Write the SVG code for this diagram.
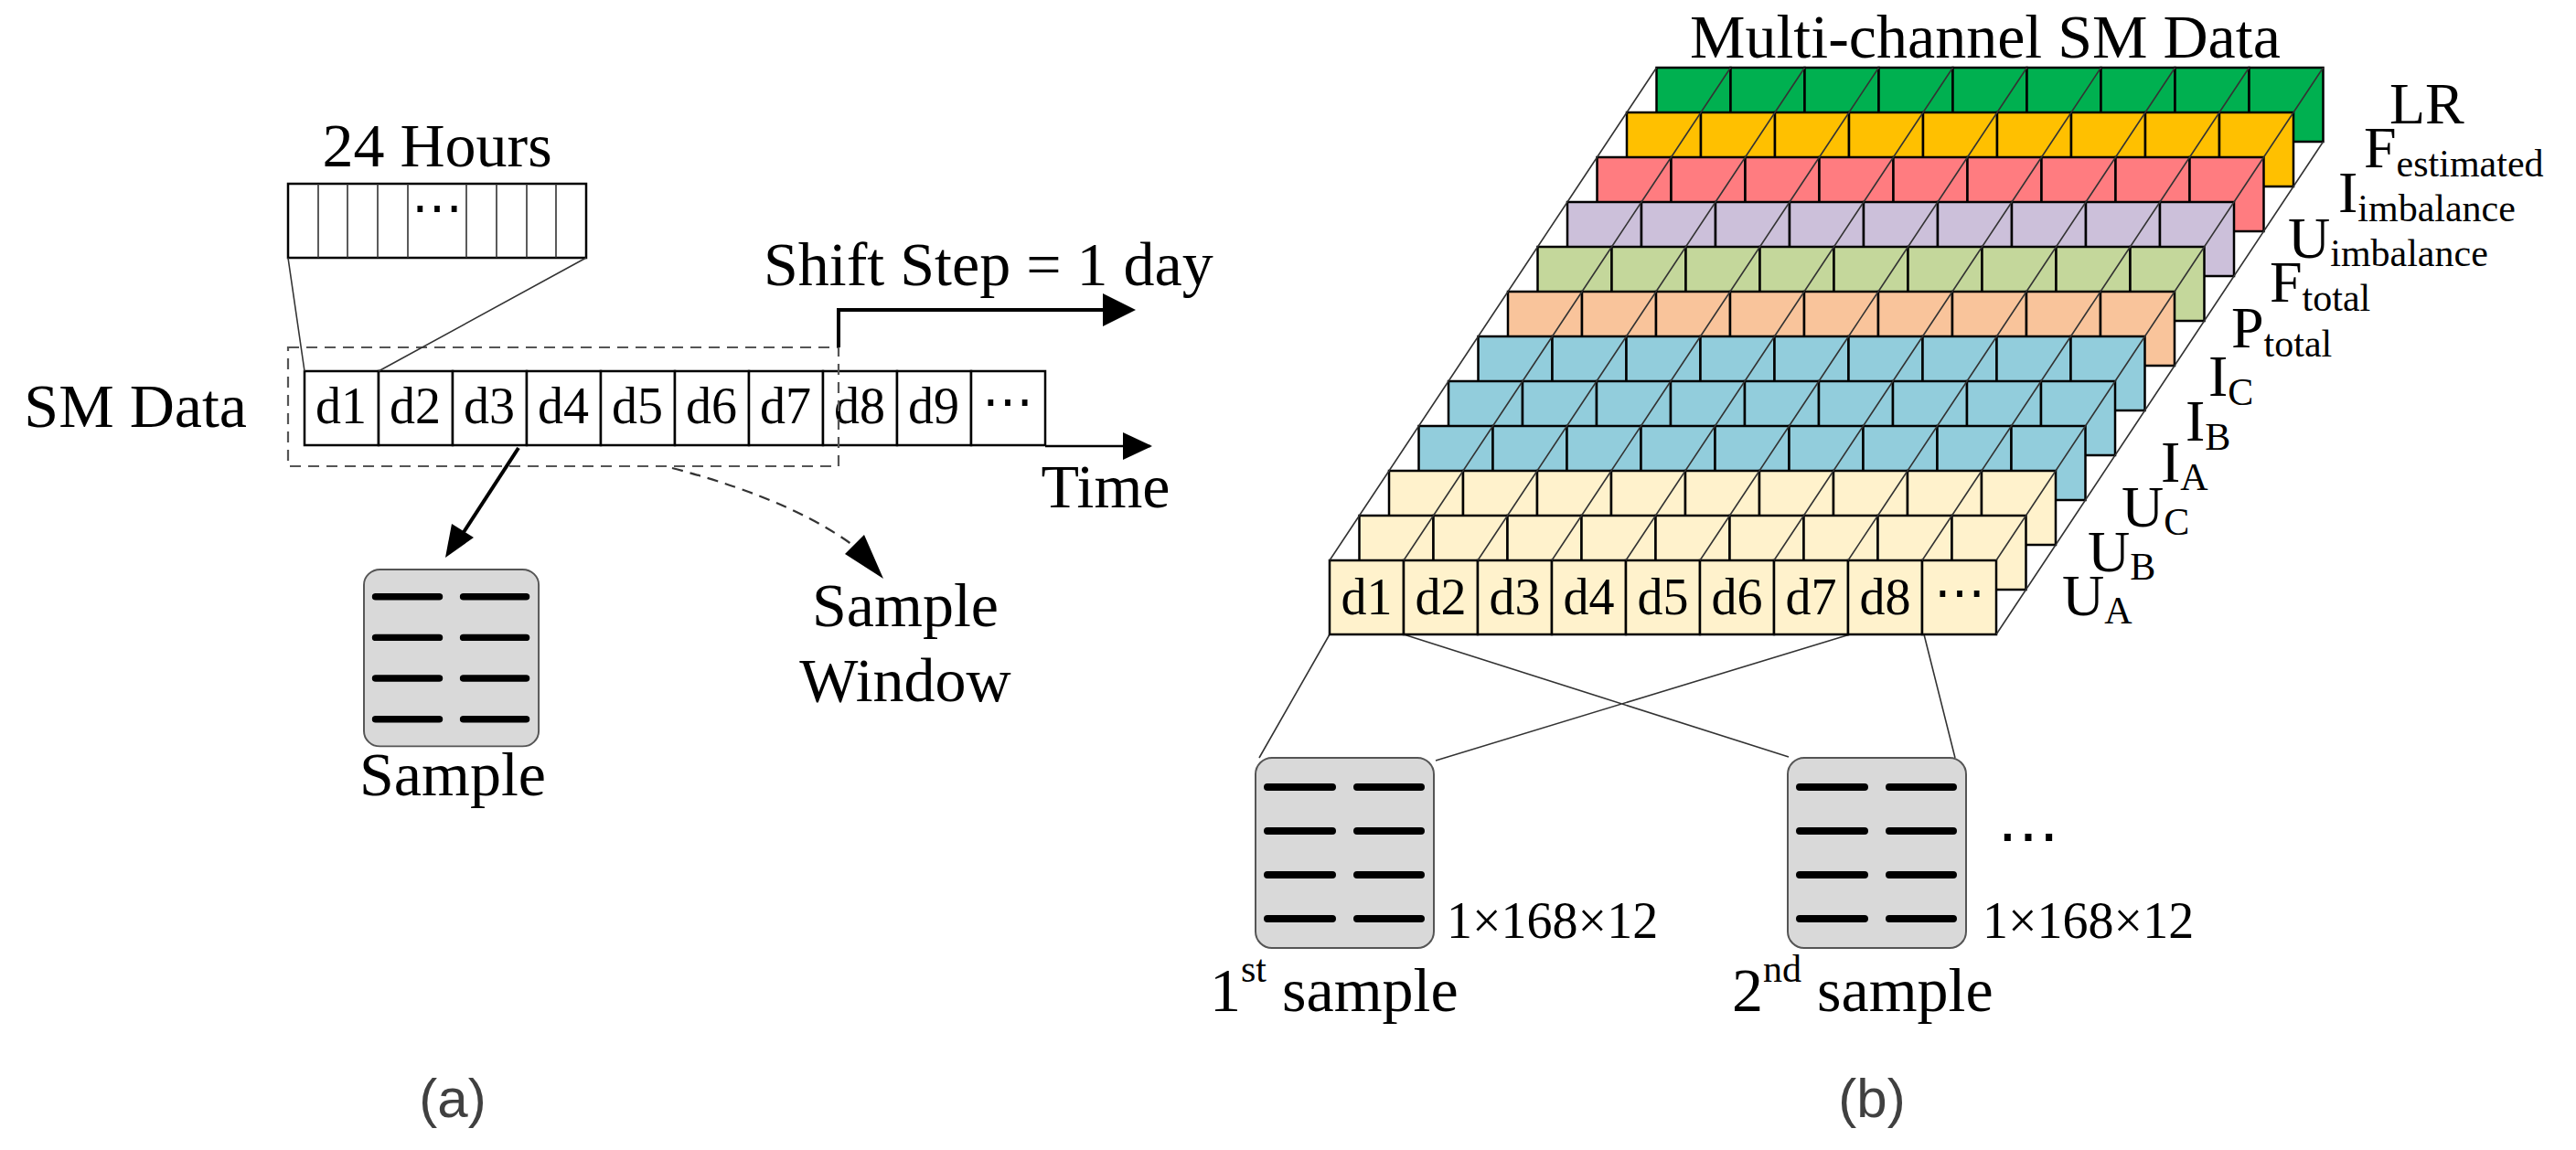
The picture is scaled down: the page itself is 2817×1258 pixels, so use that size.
<svg xmlns="http://www.w3.org/2000/svg" xmlns:xlink="http://www.w3.org/1999/xlink" width="2817" height="1258" viewBox="0 0 2817 1258">
<style>
.t{font-family:"Liberation Serif","Times New Roman",serif;fill:#000}
.big{font-size:68px}
.lab{font-size:64px}
.sub{font-size:42px}
.cell{font-size:56px}
.cap{font-family:"Liberation Sans",Arial,sans-serif;font-size:60px;fill:#404040}
.box{stroke:#000;stroke-width:2.5}
.thin{stroke:#333;stroke-width:1.6;fill:none}
.dash{stroke:#000;stroke-width:8;stroke-linecap:round}
.smp{fill:#d9d9d9;stroke:#555;stroke-width:2}
</style>
<defs>
<g id="row">
<rect class="box" x="0" y="0" width="81" height="81"/><rect class="box" x="81" y="0" width="81" height="81"/><rect class="box" x="162" y="0" width="81" height="81"/><rect class="box" x="243" y="0" width="81" height="81"/><rect class="box" x="324" y="0" width="81" height="81"/><rect class="box" x="405" y="0" width="81" height="81"/><rect class="box" x="486" y="0" width="81" height="81"/><rect class="box" x="567" y="0" width="81" height="81"/><rect class="box" x="648" y="0" width="81" height="81"/>
</g>
<g id="diag" class="thin">
<path d="M0 0l32.5 -49M81 0l32.5 -49M162 0l32.5 -49M243 0l32.5 -49M324 0l32.5 -49M405 0l32.5 -49M486 0l32.5 -49M567 0l32.5 -49M648 0l32.5 -49M729 0l32.5 -49M729 81l32.5 -49"/>
</g>
<g id="sample">
<rect class="smp" x="0" y="0" width="195" height="208" rx="18"/>
<path class="dash" d="M13 32h71M111 32h70M13 80h71M111 80h70M13 128h71M111 128h70M13 176h71M111 176h70"/>
</g>
</defs>

<!-- Part (a) -->
<g id="hours">
<text class="t big" x="478" y="182" text-anchor="middle">24 Hours</text>
<rect x="315" y="201" width="326" height="81" fill="#fff" stroke="#000" stroke-width="2.5"/>
<path class="thin" d="M348 201v81M380 201v81M413 201v81M446 201v81M510 201v81M543 201v81M576 201v81M608 201v81"/>
<text class="t cell" x="478" y="246" text-anchor="middle">⋯</text>
</g>
<g id="smdata">
<text class="t big" x="270" y="467" text-anchor="end">SM Data</text>
<g fill="#fff">
<rect class="box" x="333" y="406" width="81" height="81"/><rect class="box" x="414" y="406" width="81" height="81"/><rect class="box" x="495" y="406" width="81" height="81"/><rect class="box" x="576" y="406" width="81" height="81"/><rect class="box" x="657" y="406" width="81" height="81"/><rect class="box" x="738" y="406" width="81" height="81"/><rect class="box" x="819" y="406" width="81" height="81"/><rect class="box" x="900" y="406" width="81" height="81"/><rect class="box" x="981" y="406" width="81" height="81"/><rect class="box" x="1062" y="406" width="81" height="81"/>
</g>
<g class="t cell" text-anchor="middle">
<text x="373" y="463">d1</text><text x="454" y="463">d2</text><text x="535" y="463">d3</text><text x="616" y="463">d4</text><text x="697" y="463">d5</text><text x="778" y="463">d6</text><text x="859" y="463">d7</text><text x="940" y="463">d8</text><text x="1021" y="463">d9</text><text x="1102" y="458">⋯</text>
</g>
</g>
<g id="window">
<rect x="315" y="380" width="602" height="130" fill="none" stroke="#555" stroke-width="2.2" stroke-dasharray="12 8"/>
</g>
<g id="sampleA">
<use xlink:href="#sample" transform="translate(398 623) scale(0.98 0.93)"/>
<text class="t big" x="495" y="870" text-anchor="middle">Sample</text>
</g>
<text class="t big" x="990" y="685" text-anchor="middle">Sample</text>
<text class="t big" x="990" y="767" text-anchor="middle">Window</text>
<text class="t big" x="1209" y="555" text-anchor="middle">Time</text>
<text class="t big" x="835" y="312">Shift Step = 1 day</text>

<g id="connectors">
<path d="M315 282L333 406M641 282L414 406" class="thin"/>
<path d="M1143 488H1258" stroke="#000" stroke-width="2.5" fill="none"/>
<path d="M1228 473L1260 488L1228 503z" fill="#000"/>
<path d="M917 380V339H1210" stroke="#000" stroke-width="4" fill="none"/>
<path d="M1206 321L1242 339L1206 357z" fill="#000"/>
<path d="M567 490L500 593" stroke="#000" stroke-width="4" fill="none"/>
<path d="M487 610L494 573L518 588z" fill="#000"/>
<path d="M735 512Q880 550 950 610" stroke="#333" stroke-width="2.2" stroke-dasharray="12 8" fill="none"/>
<path d="M966 633L924 606L945 585z" fill="#000"/>
<path class="thin" d="M1454 694L1377 829M1535 694L1956 828M2023 694L1570 832M2104 694L2138 829"/>
</g>

<!-- Part (b) -->
<text class="t big" x="1848" y="63">Multi-channel SM Data</text>
<g id="stack">
<g id="L11"><use xlink:href="#row" x="1811.5" y="74" fill="#00b050"/></g>
<g id="L10"><use xlink:href="#row" x="1779" y="123" fill="#ffc000"/><use xlink:href="#diag" x="1779" y="123"/></g>
<g id="L9"><use xlink:href="#row" x="1746.5" y="172" fill="#ff7c80"/><use xlink:href="#diag" x="1746.5" y="172"/></g>
<g id="L8"><use xlink:href="#row" x="1714" y="221" fill="#ccc0da"/><use xlink:href="#diag" x="1714" y="221"/></g>
<g id="L7"><use xlink:href="#row" x="1681.5" y="270" fill="#c4d79b"/><use xlink:href="#diag" x="1681.5" y="270"/></g>
<g id="L6"><use xlink:href="#row" x="1649" y="319" fill="#f9c49b"/><use xlink:href="#diag" x="1649" y="319"/></g>
<g id="L5"><use xlink:href="#row" x="1616.5" y="368" fill="#92cddc"/><use xlink:href="#diag" x="1616.5" y="368"/></g>
<g id="L4"><use xlink:href="#row" x="1584" y="417" fill="#92cddc"/><use xlink:href="#diag" x="1584" y="417"/></g>
<g id="L3"><use xlink:href="#row" x="1551.5" y="466" fill="#92cddc"/><use xlink:href="#diag" x="1551.5" y="466"/></g>
<g id="L2"><use xlink:href="#row" x="1519" y="515" fill="#fff2cc"/><use xlink:href="#diag" x="1519" y="515"/></g>
<g id="L1"><use xlink:href="#row" x="1486.5" y="564" fill="#fff2cc"/><use xlink:href="#diag" x="1486.5" y="564"/></g>
<g id="L0"><use xlink:href="#row" x="1454" y="613" fill="#fff2cc"/><use xlink:href="#diag" x="1454" y="613"/>
<g class="t cell" text-anchor="middle">
<text x="1494.5" y="672">d1</text><text x="1575.5" y="672">d2</text><text x="1656.5" y="672">d3</text><text x="1737.5" y="672">d4</text><text x="1818.5" y="672">d5</text><text x="1899.5" y="672">d6</text><text x="1980.5" y="672">d7</text><text x="2061.5" y="672">d8</text><text x="2142.5" y="667">⋯</text>
</g></g>
</g>
<g id="labels" class="t lab">
<text x="2613" y="135">LR</text>
<text x="2585" y="183">F<tspan class="sub" dy="10">estimated</tspan></text>
<text x="2557" y="232">I<tspan class="sub" dy="10">imbalance</tspan></text>
<text x="2502" y="282">U<tspan class="sub" dy="9">imbalance</tspan></text>
<text x="2482" y="330">F<tspan class="sub" dy="10">total</tspan></text>
<text x="2440" y="380">P<tspan class="sub" dy="10">total</tspan></text>
<text x="2415" y="433">I<tspan class="sub" dy="10">C</tspan></text>
<text x="2390" y="482">I<tspan class="sub" dy="10">B</tspan></text>
<text x="2363" y="527">I<tspan class="sub" dy="9">A</tspan></text>
<text x="2320" y="576">U<tspan class="sub" dy="9">C</tspan></text>
<text x="2283" y="625">U<tspan class="sub" dy="9">B</tspan></text>
<text x="2255" y="673">U<tspan class="sub" dy="9">A</tspan></text>
</g>
<g id="sample1">
<use xlink:href="#sample" x="1373" y="829"/>
<text class="t cell" x="1582" y="1026">1×168×12</text>
<text class="t big" x="1323" y="1106">1<tspan font-size="42" dy="-32">st</tspan><tspan dy="32"> sample</tspan></text>
</g>
<g id="sample2">
<use xlink:href="#sample" x="1955" y="829"/>
<text class="t cell" x="2168" y="1026">1×168×12</text>
<text class="t big" x="1894" y="1106">2<tspan font-size="42" dy="-32">nd</tspan><tspan dy="32"> sample</tspan></text>
<text class="t big" x="2218" y="938" text-anchor="middle">⋯</text>
</g>
<text class="cap" x="495" y="1222" text-anchor="middle">(a)</text>
<text class="cap" x="2047" y="1222" text-anchor="middle">(b)</text>
</svg>
